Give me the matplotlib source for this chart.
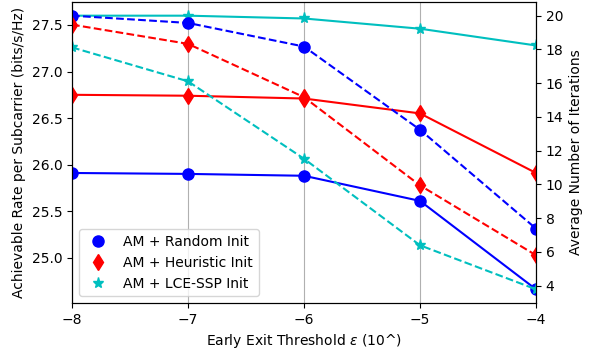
import numpy as np
import matplotlib
matplotlib.use('Agg')
import matplotlib.pyplot as plt
from matplotlib.lines import Line2D

# x axis: early exit threshold exponent
eps_exp = [-8, -7, -6, -5, -4]

# achievable rate (left axis, solid lines)
rate_random = [25.91, 25.90, 25.88, 25.61, 24.66]
rate_heur = [26.75, 26.74, 26.71, 26.55, 25.91]
rate_lce = [27.60, 27.60, 27.57, 27.46, 27.28]

# average number of iterations (right axis, dashed lines)
iter_random = [20.0, 19.57, 18.17, 13.24, 7.38]
iter_heur = [19.47, 18.33, 15.17, 9.94, 5.8]
iter_lce = [18.12, 16.11, 11.52, 6.39, 3.78]

labels = ['AM + Random Init', 'AM + Heuristic Init', 'AM + LCE-SSP Init']
colors = ['b', 'r', 'c']
markers = ['o', 'd', '*']
msizes = [8, 8, 8]

fig, ax1 = plt.subplots(figsize=(5.94, 3.49), dpi=100)
ax2 = ax1.twinx()

for r, it, c, m, ms in zip([rate_random, rate_heur, rate_lce],
                           [iter_random, iter_heur, iter_lce],
                           colors, markers, msizes):
    ax1.plot(eps_exp, r, color=c, marker=m, markersize=ms, linestyle='-')
    ax2.plot(eps_exp, it, color=c, marker=m, markersize=ms, linestyle='--')

ax1.set_xlim(-8, -4)
ax1.set_xticks(eps_exp)
ax1.xaxis.grid(True, color='#b0b0b0', linewidth=0.8)
ax1.set_xlabel(r'Early Exit Threshold $\varepsilon$ (10^)')
ax1.set_ylabel('Achievable Rate per Subcarrier (bits/s/Hz)')
ax2.set_ylabel('Average Number of Iterations')
ax2.set_yticks([4, 6, 8, 10, 12, 14, 16, 18, 20])

handles = [Line2D([], [], color=c, marker=m, linestyle='none', markersize=ms)
           for c, m, ms in zip(colors, markers, msizes)]
ax1.legend(handles, labels, loc='lower left')

fig.subplots_adjust(left=72/594, right=536/594, top=1-2/349, bottom=1-303/349)
fig.savefig('out.png')
